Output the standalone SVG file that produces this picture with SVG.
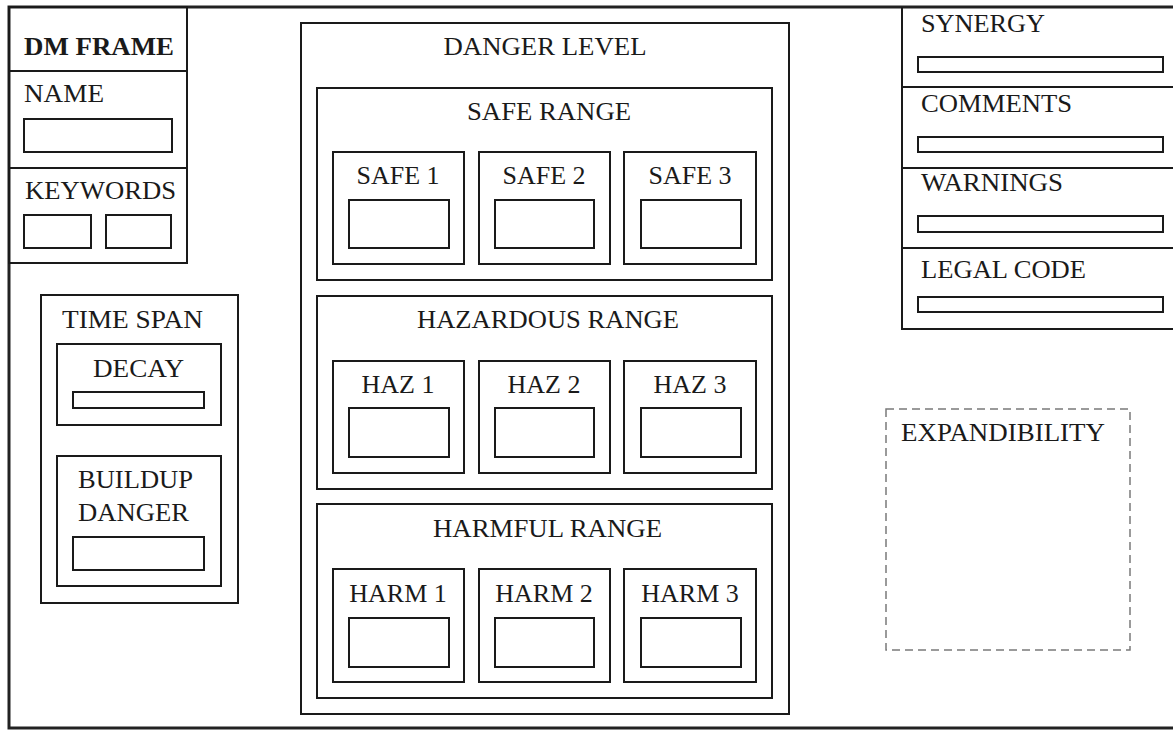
<svg xmlns="http://www.w3.org/2000/svg" width="1173" height="730" viewBox="0 0 1173 730">
<style>
  text { font-family: "Liberation Serif", "Times New Roman", serif; font-size: 26px; fill: #1a1a1a; }
  .b { font-weight: bold; }
  .m { text-anchor: middle; }
  .box { fill: none; stroke: #1a1a1a; stroke-width: 2; }
  .frame { fill: none; stroke: #222; stroke-width: 3; }
  .dash { fill: none; stroke: #7a7a7a; stroke-width: 1.5; stroke-dasharray: 8 5; }
</style>
<rect width="1173" height="730" fill="#ffffff"/>
<g id="outer-frame">
  <path class="frame" d="M1175,7 H9 V728 H1175"/>
</g>

<g id="dm-frame">
  <rect class="box" x="9" y="7" width="178" height="256" stroke-width="2.5"/>
  <line class="box" x1="9" y1="71" x2="187" y2="71"/>
  <line class="box" x1="9" y1="168" x2="187" y2="168"/>
  <text class="b" x="24" y="55" textLength="150" lengthAdjust="spacingAndGlyphs">DM FRAME</text>
  <text x="24" y="102" textLength="80" lengthAdjust="spacingAndGlyphs">NAME</text>
  <rect class="box" x="24" y="119" width="148" height="33"/>
  <text x="25" y="199" textLength="151" lengthAdjust="spacingAndGlyphs">KEYWORDS</text>
  <rect class="box" x="24" y="215" width="67" height="33"/>
  <rect class="box" x="106" y="215" width="65" height="33"/>
</g>

<g id="time-span">
  <rect class="box" x="41" y="295" width="197" height="308"/>
  <text x="62" y="328" textLength="141" lengthAdjust="spacingAndGlyphs">TIME SPAN</text>
  <g id="decay">
    <rect class="box" x="57" y="344" width="164" height="81"/>
    <text x="93" y="377" textLength="91" lengthAdjust="spacingAndGlyphs">DECAY</text>
    <rect class="box" x="73" y="392" width="131" height="16"/>
  </g>
  <g id="buildup-danger">
    <rect class="box" x="57" y="456" width="164" height="130"/>
    <text x="78" y="488" textLength="115" lengthAdjust="spacingAndGlyphs">BUILDUP</text>
    <text x="78" y="521" textLength="111" lengthAdjust="spacingAndGlyphs">DANGER</text>
    <rect class="box" x="73" y="537" width="131" height="33"/>
  </g>
</g>

<g id="danger-level">
  <rect class="box" x="301" y="23" width="488" height="691"/>
  <text class="m" x="545" y="55" textLength="203" lengthAdjust="spacingAndGlyphs">DANGER LEVEL</text>

  <g id="safe-range">
    <rect class="box" x="317" y="88" width="455" height="192"/>
    <text class="m" x="549" y="120" textLength="164" lengthAdjust="spacingAndGlyphs">SAFE RANGE</text>
    <g id="safe1">
      <rect class="box" x="333" y="152" width="131" height="112"/>
      <text class="m" x="398" y="184">SAFE 1</text>
      <rect class="box" x="349" y="200" width="100" height="48"/>
    </g>
    <g id="safe2">
      <rect class="box" x="479" y="152" width="131" height="112"/>
      <text class="m" x="544" y="184">SAFE 2</text>
      <rect class="box" x="495" y="200" width="99" height="48"/>
    </g>
    <g id="safe3">
      <rect class="box" x="624" y="152" width="132" height="112"/>
      <text class="m" x="690" y="184">SAFE 3</text>
      <rect class="box" x="641" y="200" width="100" height="48"/>
    </g>
  </g>

  <g id="hazardous-range">
    <rect class="box" x="317" y="296" width="455" height="193"/>
    <text class="m" x="548" y="328" textLength="262" lengthAdjust="spacingAndGlyphs">HAZARDOUS RANGE</text>
    <g id="haz1">
      <rect class="box" x="333" y="361" width="131" height="112"/>
      <text class="m" x="398" y="393">HAZ 1</text>
      <rect class="box" x="349" y="408" width="100" height="49"/>
    </g>
    <g id="haz2">
      <rect class="box" x="479" y="361" width="131" height="112"/>
      <text class="m" x="544" y="393">HAZ 2</text>
      <rect class="box" x="495" y="408" width="99" height="49"/>
    </g>
    <g id="haz3">
      <rect class="box" x="624" y="361" width="132" height="112"/>
      <text class="m" x="690" y="393">HAZ 3</text>
      <rect class="box" x="641" y="408" width="100" height="49"/>
    </g>
  </g>

  <g id="harmful-range">
    <rect class="box" x="317" y="504" width="455" height="194"/>
    <text class="m" x="547.5" y="537" textLength="229" lengthAdjust="spacingAndGlyphs">HARMFUL RANGE</text>
    <g id="harm1">
      <rect class="box" x="333" y="569" width="131" height="113"/>
      <text class="m" x="398" y="602">HARM 1</text>
      <rect class="box" x="349" y="618" width="100" height="49"/>
    </g>
    <g id="harm2">
      <rect class="box" x="479" y="569" width="131" height="113"/>
      <text class="m" x="544" y="602">HARM 2</text>
      <rect class="box" x="495" y="618" width="99" height="49"/>
    </g>
    <g id="harm3">
      <rect class="box" x="624" y="569" width="132" height="113"/>
      <text class="m" x="690" y="602">HARM 3</text>
      <rect class="box" x="641" y="618" width="100" height="49"/>
    </g>
  </g>
</g>

<g id="right-panel">
  <path class="box" d="M902,7 V329 H1175"/>
  <line class="box" x1="902" y1="87" x2="1175" y2="87"/>
  <line class="box" x1="902" y1="168" x2="1175" y2="168"/>
  <line class="box" x1="902" y1="248" x2="1175" y2="248"/>
  <g id="synergy">
    <text x="921" y="32" textLength="124" lengthAdjust="spacingAndGlyphs">SYNERGY</text>
    <rect class="box" x="918" y="57" width="245" height="15"/>
  </g>
  <g id="comments">
    <text x="921" y="112" textLength="151" lengthAdjust="spacingAndGlyphs">COMMENTS</text>
    <rect class="box" x="918" y="137" width="245" height="15"/>
  </g>
  <g id="warnings">
    <text x="921" y="191" textLength="142" lengthAdjust="spacingAndGlyphs">WARNINGS</text>
    <rect class="box" x="918" y="216" width="245" height="16"/>
  </g>
  <g id="legal-code">
    <text x="921" y="278" textLength="165" lengthAdjust="spacingAndGlyphs">LEGAL CODE</text>
    <rect class="box" x="918" y="297" width="245" height="15"/>
  </g>
</g>

<g id="expandibility">
  <rect class="dash" x="886" y="409" width="244" height="241"/>
  <text x="901" y="441" textLength="204" lengthAdjust="spacingAndGlyphs" fill="#333">EXPANDIBILITY</text>
</g>

<g id="connectors"></g>
</svg>
